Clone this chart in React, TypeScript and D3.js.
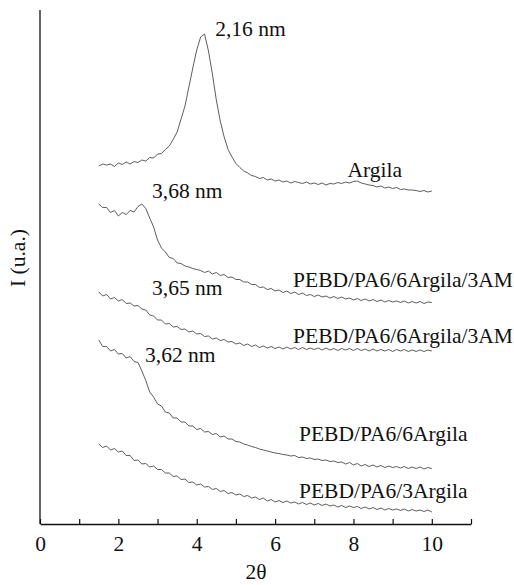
import React, { useRef, useEffect } from "react";
import * as d3 from "d3";

// 2-theta sampling (degrees)
const THETA = [
  1.5, 1.6, 1.7, 1.8, 1.9, 2.0, 2.1, 2.2, 2.3, 2.4, 2.5, 2.6, 2.7, 2.8, 2.9,
  3.0, 3.1, 3.2, 3.3, 3.4, 3.5, 3.6, 3.7, 3.8, 3.9, 4.0, 4.1, 4.2, 4.3, 4.4,
  4.5, 4.6, 4.7, 4.8, 4.9, 5.0, 5.1, 5.2, 5.3, 5.4, 5.5, 5.6, 5.7, 5.8, 5.9,
  6.0, 6.1, 6.2, 6.3, 6.4, 6.5, 6.6, 6.7, 6.8, 6.9, 7.0, 7.1, 7.2, 7.3, 7.4,
  7.5, 7.6, 7.7, 7.8, 7.9, 8.0, 8.1, 8.2, 8.3, 8.4, 8.5, 8.6, 8.7, 8.8, 8.9,
  9.0, 9.1, 9.2, 9.3, 9.4, 9.5, 9.6, 9.7, 9.8, 9.9, 10.0,
];

// intensities (u.a.), curves already offset as in the figure
const ARGILA = [
  716, 720, 718, 720, 715, 722, 719, 724, 720, 725, 723, 728, 726, 733, 732,
  740, 741, 749, 756, 769, 784, 810, 836, 874, 912, 948, 974, 980, 946, 900,
  848, 806, 774, 749, 734, 721, 713, 706, 702, 697, 695, 691, 693, 688, 690,
  686, 688, 684, 686, 682, 685, 683, 681, 684, 680, 682, 679, 682, 678, 681,
  680, 683, 681, 684, 682, 685, 686, 682, 680, 678, 677, 674, 676, 672, 674,
  671, 673, 669, 670, 668, 668, 667, 665, 667, 664, 666,
];

const AM_A = [
  640, 633, 633, 623, 627, 616, 623, 619, 627, 624, 635, 640, 631, 612, 594,
  568, 552, 544, 533, 531, 522, 521, 516, 514, 511, 509, 507, 503, 506, 500,
  503, 497, 499, 493, 494, 489, 489, 484, 484, 479, 479, 473, 474, 469, 471,
  466, 468, 463, 466, 461, 464, 459, 462, 457, 459, 455, 458, 454, 456, 452,
  455, 451, 454, 450, 452, 448, 451, 447, 450, 446, 449, 445, 448, 444, 447,
  444, 446, 443, 446, 442, 445, 442, 445, 441, 444, 443,
];

const AM_B = [
  464, 456, 459, 450, 453, 446, 449, 441, 442, 436, 437, 430, 428, 418, 416,
  408, 408, 400, 401, 394, 395, 389, 390, 384, 386, 380, 381, 375, 376, 370,
  372, 367, 369, 364, 365, 360, 362, 357, 360, 355, 358, 353, 356, 352, 355,
  351, 354, 350, 354, 350, 353, 349, 353, 349, 352, 349, 352, 348, 352, 348,
  351, 347, 351, 348, 351, 347, 351, 347, 350, 346, 350, 346, 349, 346, 349,
  345, 349, 346, 349, 345, 348, 345, 348, 345, 348, 346,
];

const ARGILA6 = [
  368, 355, 355, 346, 349, 340, 341, 332, 335, 325, 323, 306, 287, 264, 254,
  240, 236, 224, 222, 212, 212, 204, 204, 196, 196, 189, 191, 184, 185, 179,
  181, 174, 176, 170, 170, 165, 164, 160, 158, 155, 153, 150, 148, 146, 144,
  142, 141, 139, 138, 136, 137, 133, 134, 131, 132, 129, 130, 127, 128, 125,
  126, 123, 124, 120, 123, 118, 121, 116, 119, 115, 118, 114, 117, 113, 116,
  113, 115, 112, 115, 111, 114, 111, 114, 110, 113, 111,
];

const ARGILA3 = [
  160, 153, 156, 148, 151, 144, 146, 137, 137, 127, 128, 120, 121, 114, 116,
  109, 109, 102, 102, 95, 96, 89, 90, 83, 84, 78, 80, 74, 75, 69,
  71, 65, 67, 61, 63, 58, 60, 55, 57, 52, 54, 49, 52, 46, 49,
  44, 47, 43, 46, 42, 44, 40, 43, 39, 42, 38, 41, 37, 40, 36,
  38, 34, 37, 33, 36, 33, 35, 31, 34, 30, 33, 29, 32, 28, 31,
  28, 30, 27, 30, 26, 29, 26, 28, 25, 28, 24,
];

const SERIES = [ARGILA, AM_A, AM_B, ARGILA6, ARGILA3];

const X_TICKS = [0, 1, 2, 3, 4, 5, 6, 7, 8, 9, 10, 11];

const ANNOTATIONS = [
  "2,16 nm",
  "Argila",
  "3,68 nm",
  "PEBD/PA6/6Argila/3AM",
  "3,65 nm",
  "PEBD/PA6/6Argila/3AM",
  "3,62 nm",
  "PEBD/PA6/6Argila",
  "PEBD/PA6/3Argila",
];
// anchor of each annotation in data units [2theta, intensity]
const ANNOTATION_AT = [
  [4.47, 976],
  [7.85, 694],
  [2.86, 652],
  [6.46, 474],
  [2.86, 458],
  [6.46, 362],
  [2.68, 324],
  [6.61, 166],
  [6.61, 52],
];

const WIDTH = 514;
const HEIGHT = 585;
const FONT = "'Liberation Serif', 'Times New Roman', serif";
const FONT_SIZE = "21.5px";

const App = () => {
  const svgRef = useRef<SVGSVGElement | null>(null);

  useEffect(() => {
    const svg = d3.select(svgRef.current);
    svg.selectAll("*").remove();

    const x = d3.scaleLinear().domain([0, 11]).range([40, 471]);
    const y = d3.scaleLinear().domain([0, 1028]).range([524, 10]);

    // curves
    const line = d3
      .line<number>()
      .x((_, i) => x(THETA[i]))
      .y((d) => y(d));

    svg
      .append("g")
      .selectAll("path")
      .data(SERIES)
      .join("path")
      .attr("d", (d) => line(d))
      .attr("fill", "none")
      .attr("stroke", "#333")
      .attr("stroke-width", 0.8)
      .attr("stroke-linejoin", "round");

    // x axis, ticks pointing inward
    const xAxis = svg
      .append("g")
      .attr("transform", `translate(0,${y(0)})`)
      .call(
        d3
          .axisBottom(x)
          .tickValues(X_TICKS)
          .tickSize(-5)
          .tickSizeOuter(0)
          .tickPadding(12)
          .tickFormat((d) => {
            const v = +d;
            return v % 2 === 0 && v <= 10 ? String(v) : "";
          })
      );
    xAxis.select(".domain").attr("stroke", "#111").attr("stroke-width", 1.3);
    xAxis.selectAll(".tick line").attr("stroke", "#111").attr("stroke-width", 1.2);
    xAxis
      .selectAll(".tick text")
      .attr("fill", "#111")
      .style("font-family", FONT)
      .style("font-size", FONT_SIZE);

    // y axis: plain line
    svg
      .append("line")
      .attr("x1", x(0))
      .attr("x2", x(0))
      .attr("y1", y(1028))
      .attr("y2", y(0))
      .attr("stroke", "#111")
      .attr("stroke-width", 1.3);

    // annotations
    svg
      .append("g")
      .selectAll("text")
      .data(ANNOTATIONS)
      .join("text")
      .attr("x", (_, i) => x(ANNOTATION_AT[i][0]))
      .attr("y", (_, i) => y(ANNOTATION_AT[i][1]))
      .attr("fill", "#111")
      .style("font-family", FONT)
      .style("font-size", FONT_SIZE)
      .text((d) => d);

    // axis titles
    svg
      .append("text")
      .attr("x", 256)
      .attr("y", 579)
      .attr("text-anchor", "middle")
      .attr("fill", "#111")
      .style("font-family", FONT)
      .style("font-size", FONT_SIZE)
      .text("2θ");

    svg
      .append("text")
      .attr("transform", "translate(25,258) rotate(-90)")
      .attr("text-anchor", "middle")
      .attr("fill", "#111")
      .style("font-family", FONT)
      .style("font-size", FONT_SIZE)
      .text("I (u.a.)");
  }, []);

  return (
    <div style={{ position: "absolute", left: 0, top: 0 }}>
      <svg ref={svgRef} width={WIDTH} height={HEIGHT} style={{ display: "block" }} />
    </div>
  );
};

export default App;
